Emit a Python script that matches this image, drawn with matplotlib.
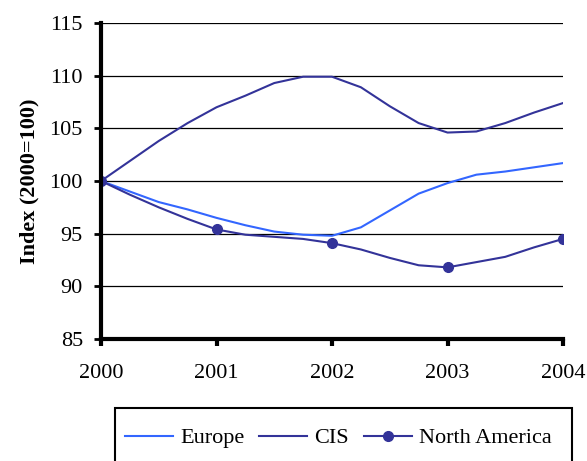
import numpy as np
import matplotlib
matplotlib.use('Agg')
import matplotlib.pyplot as plt
from matplotlib.patches import Rectangle

# quarterly index values (2000 = 100)
years = [2000.0, 2000.25, 2000.5, 2000.75, 2001.0, 2001.25, 2001.5, 2001.75,
         2002.0, 2002.25, 2002.5, 2002.75, 2003.0, 2003.25, 2003.5, 2003.75, 2004.0]
europe = [100.0, 99.0, 98.0, 97.3, 96.5, 95.8, 95.2, 94.9,
          94.8, 95.6, 97.2, 98.8, 99.8, 100.6, 100.9, 101.3, 101.7]
cis = [100.0, 101.9, 103.8, 105.5, 107.0, 108.1, 109.3, 109.9,
       109.9, 108.9, 107.1, 105.5, 104.6, 104.7, 105.5, 106.5, 107.4]
north_america = [100.0, 98.7, 97.5, 96.4, 95.4, 94.9, 94.7, 94.5,
                 94.1, 93.5, 92.7, 92.0, 91.8, 92.3, 92.8, 93.7, 94.5]

year_ticks = [2000, 2001, 2002, 2003, 2004]
y_ticks = [85, 90, 95, 100, 105, 110, 115]

plt.rcParams['font.family'] = ['Liberation Serif', 'DejaVu Serif']

W, H = 587, 461
fig = plt.figure(figsize=(W / 100, H / 100), dpi=100)
ax = fig.add_axes([101 / W, 1 - 339 / H, 462 / W, 316 / H])

ax.plot(years, europe, color='#3366ff', lw=1.5, label='Europe')
ax.plot(years, cis, color='#333399', lw=1.5, label='CIS')
ax.plot(years, north_america, color='#333399', lw=1.5, marker='o', ms=7,
        markevery=4, label='North America')

ax.set_xlim(2000, 2004)
ax.set_ylim(85, 115)
ax.set_xticks(year_ticks)
ax.set_yticks(y_ticks)
ax.yaxis.grid(True, color='black', lw=0.9)
ax.set_axisbelow(True)

for side in ['top', 'right']:
    ax.spines[side].set_visible(False)
for side in ['left', 'bottom']:
    ax.spines[side].set_linewidth(3)
ax.tick_params(axis='y', direction='out', length=5, width=2, labelsize=16, pad=8)
ax.tick_params(axis='x', direction='out', length=5, width=3, labelsize=16, pad=13)

ax.set_ylabel('Index (2000=100)', fontsize=16, fontweight='bold', labelpad=7)

# legend without its own frame; the box is cut off by the figure edge
leg = ax.legend(ncol=3, loc='center left', bbox_to_anchor=(125 / W, 1 - 438 / H),
                bbox_transform=fig.transFigure, borderaxespad=0, borderpad=0,
                fontsize=16, frameon=False,
                handlelength=2.16, handletextpad=0.31, columnspacing=0.68)
box = Rectangle((115 / W, -0.1), (572 - 115) / W, 0.1 + 1 - 408 / H,
                transform=fig.transFigure, fill=False, ec='black', lw=1.5)
fig.add_artist(box)

fig.savefig('out.png', dpi=100)
